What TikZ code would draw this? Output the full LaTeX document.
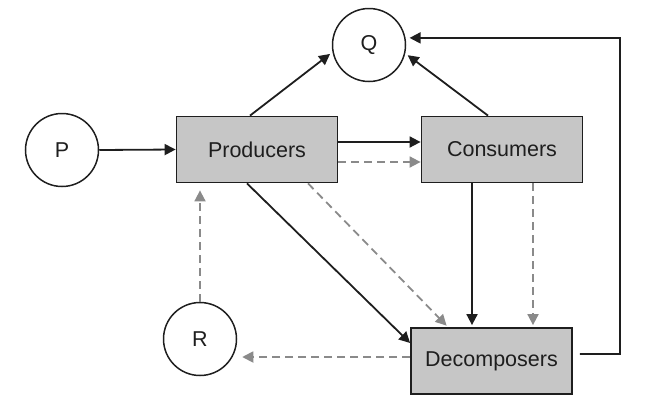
\documentclass[tikz,border=0pt]{standalone}
\usepackage{fontspec}
\setmainfont{Liberation Sans}
\usetikzlibrary{arrows.meta,calc}
\definecolor{boxfill}{HTML}{C6C6C6}
\definecolor{ink}{HTML}{1E1E1E}
\definecolor{dgray}{HTML}{8A8A8A}
\begin{document}
\begin{tikzpicture}[x=1pt,y=-1pt,
  every node/.style={font=\fontsize{21.5}{25}\selectfont, text=ink},
  compbox/.style={draw=ink, line width=1.8pt, fill=boxfill, minimum width=161pt, minimum height=66pt, inner sep=0pt},
  pool/.style={circle, draw=ink, line width=1.5pt, minimum size=73pt, inner sep=0pt},
  flow/.style={draw=ink, line width=1.8pt, -{Triangle[length=11pt,width=11pt]}},
  dflow/.style={draw=dgray, line width=1.8pt, dash pattern=on 8pt off 5pt, -{Triangle[length=11pt,width=11pt]}}]
\useasboundingbox (0,0) rectangle (647,402);
\node[pool] (P) at (62,150) {P};
\node[pool] (Q) at (369,45) {Q};
\node[pool] (R) at (200,339) {R};
\node[compbox] (prod) at (257,149.5) {Producers};
\node[compbox] (cons) at (502,149.5) {Consumers};
\node[compbox] (dec) at (491.5,361) {Decomposers};
\coordinate (turn) at (620,38);
% solid flows
\draw[flow] (P.east) -- (prod.west);
\draw[flow] ([yshift=7.5pt]prod.east) -- ([yshift=7.5pt]cons.west);
\draw[flow, shorten >=3pt] ([xshift=-7pt]prod.north) -- (Q.191);
\draw[flow, shorten >=3pt] ([xshift=-14pt]cons.north) -- (Q.347);
\draw[flow, shorten >=4pt] ([xshift=7pt,yshift=7pt]dec.east) -| (turn) -- (Q.11);
\draw[flow, shorten >=2pt] ([xshift=-30pt]cons.south) -- ([xshift=-30pt]cons.south |- dec.north);
\draw[flow] ([xshift=-10pt]prod.south) -- ([yshift=18pt]dec.west);
% dashed flows
\draw[dflow] ([yshift=-12.5pt]prod.east) -- ([yshift=-12.5pt]cons.west);
\draw[dflow, shorten >=2pt] ([xshift=31pt]cons.south) -- ([xshift=31pt]cons.south |- dec.north);
\draw[dflow, shorten >=2pt] ([xshift=51pt]prod.south) -- ([xshift=-43.5pt]dec.north);
\draw[dflow, shorten >=7pt] (R.north) -- (R.north |- prod.south);
\draw[dflow, shorten >=5pt] ([yshift=4pt]dec.west) -- ([yshift=4pt]dec.west -| R.east);
\end{tikzpicture}
\end{document}
